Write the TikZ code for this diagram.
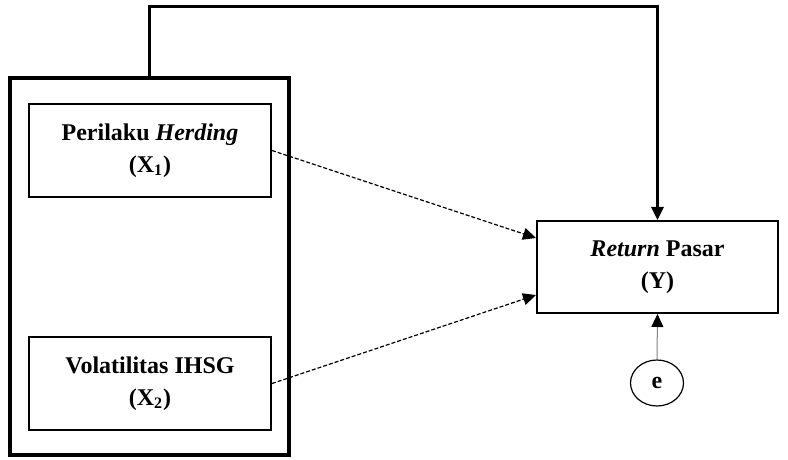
\documentclass[tikz,border=0pt]{standalone}
\usepackage{fontspec}
\setmainfont{Liberation Serif}
\usetikzlibrary{arrows.meta,shapes.geometric}
\tikzset{
  varbox/.style={rectangle,draw,line width=1pt,align=center,minimum width=121pt,minimum height=46.5pt,inner sep=0pt},
  conn/.style={-{Triangle[length=6.5pt,width=6pt]}},
}
\begin{document}
\begin{tikzpicture}[x=0.5pt,y=-0.5pt,font=\fontsize{12}{16}\selectfont\bfseries]
    \useasboundingbox (0,0) rectangle (788,460);
    \node[rectangle,draw,line width=1.6pt,minimum width=139.5pt,minimum height=188.5pt] (grp) at (149.5,266.5) {};
    \node[varbox] (X1) at (150,150.5) {Perilaku \textit{Herding}\\(X\textsubscript{1})};
    \node[varbox] (X2) at (150,383.5) {Volatilitas IHSG\\(X\textsubscript{2})};
    \node[varbox,minimum width=120.5pt,minimum height=46pt] (Y) at (657.5,267) {\textit{Return} Pasar\\(Y)};
    \node[ellipse,draw,line width=0.6pt,minimum width=26.5pt,minimum height=23pt,inner sep=0pt] (e) at (657,383) {e};
    \draw[conn,dash pattern=on 2pt off 1pt,line width=0.6pt] (X1.east) -- ([yshift=14.5pt]Y.west);
    \draw[conn,dash pattern=on 2pt off 1pt,line width=0.6pt] (X2.east) -- ([yshift=-14pt]Y.west);
    \draw[conn,line width=1.3pt] (grp.north) -- ++(0,-70) -| (Y.north);
    \draw[-{Triangle[length=6.5pt,width=6pt,color=black]},draw=gray,line width=0.5pt] (e.north) -- (Y.south);
\end{tikzpicture}
\end{document}
